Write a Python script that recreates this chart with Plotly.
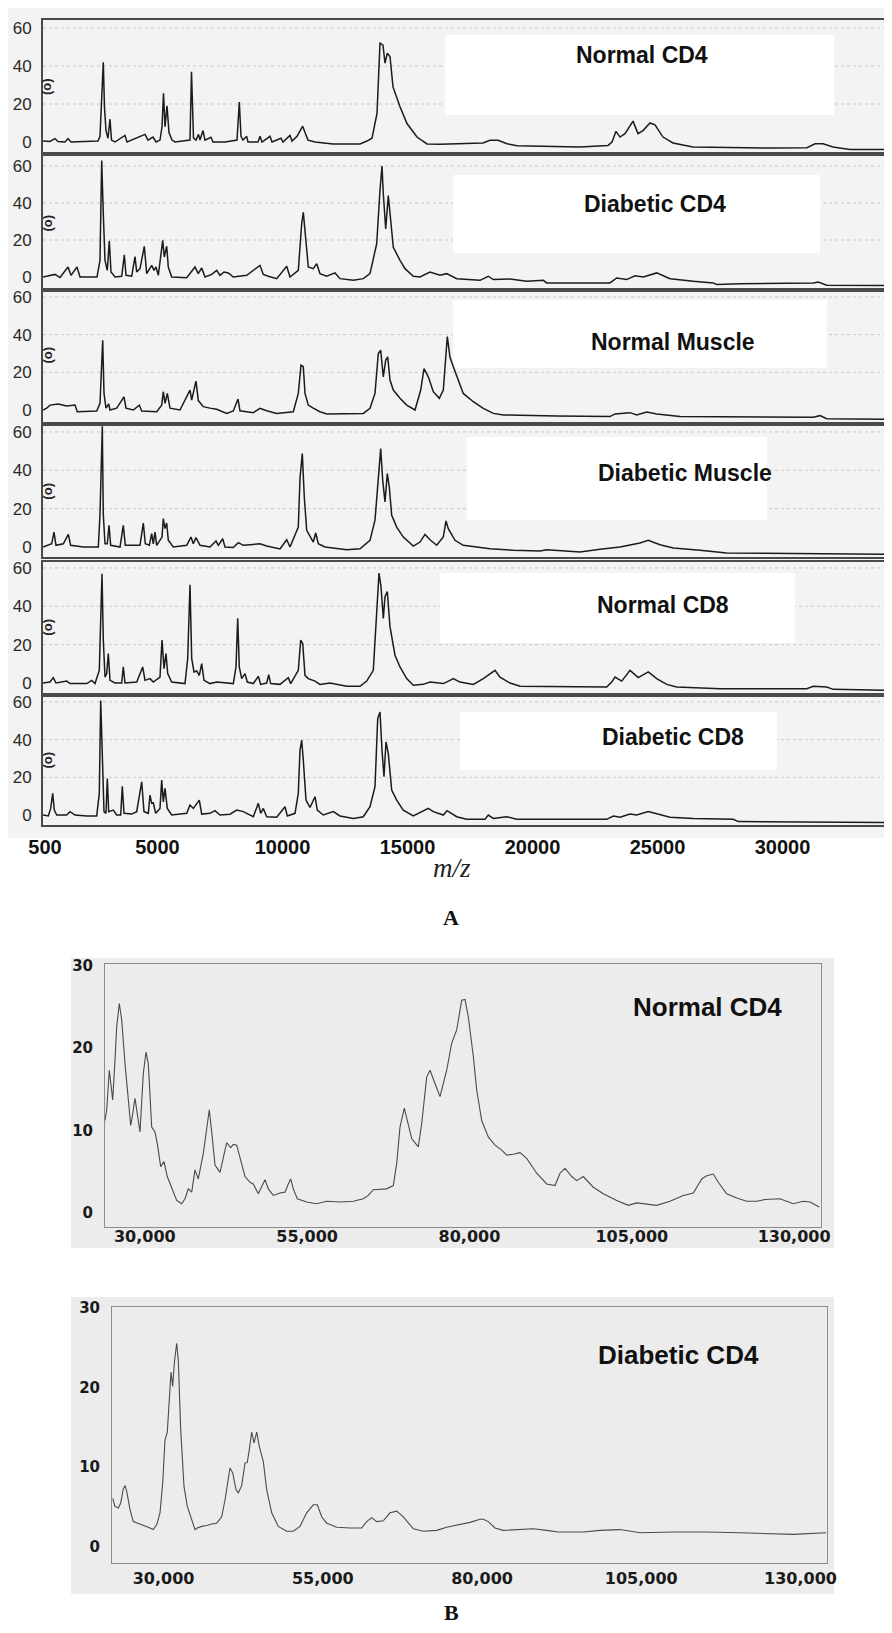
import plotly.graph_objects as go

# page is 892x1633; the browser adds an 8px body margin, so the figure is drawn 8px smaller
PAGE_W, PAGE_H = 892, 1633
OFF = 8
W, H = PAGE_W - OFF, PAGE_H - OFF

# ---------------- tick labels ----------------
a_tick_vals = [500, 5000, 10000, 15000, 20000, 25000, 30000]
a_tick_text = ["500", "5000", "10000", "15000", "20000", "25000", "30000"]
a_y_ticks = [0, 20, 40, 60]
b_tick_vals = [30000, 55000, 80000, 105000, 130000]
b_tick_text = ["30,000", "55,000", "80,000", "105,000", "130,000"]
b_y_ticks = [0, 10, 20, 30]

a_names = ["Normal CD4", "Diabetic CD4", "Normal Muscle", "Diabetic Muscle", "Normal CD8", "Diabetic CD8"]
b_names = ["Normal CD4", "Diabetic CD4"]

# ---------------- panel A spectra (m/z, intensity) ----------------
nc4_mz = [420, 700, 900, 1020, 1300, 1420, 1540, 2100, 2620, 2700,
          2760, 2832, 2880, 2940, 3020, 3100, 3160, 3300, 3700, 3780,
          4500, 4620, 4820, 4940, 5100, 5180, 5240, 5300, 5380, 5460,
          5580, 5700, 6300, 6360, 6440, 6540, 6640, 6700, 6820, 6900,
          7140, 7220, 7700, 8180, 8272, 8340, 8420, 8568, 8620, 9020,
          9100, 9180, 9500, 9580, 9940, 10020, 10300, 10380, 10580, 10808,
          10900, 11020, 11300, 12020, 13100, 13380, 13580, 13780, 13900, 14020,
          14100, 14192, 14300, 14420, 14700, 14980, 15380, 15780, 16300, 17100,
          18020, 18300, 18620, 18980, 19380, 21900, 23020, 23180, 23340, 23500,
          23700, 24020, 24220, 24420, 24700, 24900, 25220, 25620, 26420, 29620,
          30980, 31300, 31620, 32020, 32700, 34220]
nc4_int = [0.5, 0.3, 1.8, 0.3, 0, 1.8, 0, 0.2, 0.5, 3,
           25, 42, 18, 6, 2, 12, 1, 0, 3.5, 0,
           4, 1, 2.6, 0, 1, 8, 25.6, 8, 19, 5,
           1, 0, 1, 37, 2, 1, 4, 1, 6, 1,
           2.5, 0, 0, 1, 21, 3, 1, 3, 0, 0,
           3, 0, 3, 0, 2, 0, 3.5, 0.5, 3, 8.3,
           5, 1, 0, -1, -1, 0.5, 2, 15, 52, 51,
           41.5, 46.7, 45, 29, 18.5, 9.7, 2.6, -1, -1.2, -0.9,
           -0.5, 0.9, 0.9, -0.9, -2, -2.6, -1.8, 0, 5.6, 2.6,
           4.4, 11, 4.4, 6, 10, 9, 2.6, -0.5, -2.6, -3.2,
           -3, -0.9, -0.9, -2.6, -3.9, -3.9]

dc4_mz = [420, 900, 1100, 1420, 1540, 1780, 1900, 2580, 2700, 2768,
          2832, 2900, 2992, 3072, 3140, 3300, 3568, 3672, 3740, 3968,
          4100, 4168, 4300, 4472, 4568, 4768, 4860, 4940, 5032, 5208,
          5272, 5368, 5432, 5568, 6168, 6500, 6632, 6768, 6900, 7168,
          7368, 7500, 7660, 7832, 8032, 8568, 9100, 9232, 9432, 9768,
          10168, 10300, 10632, 10768, 10832, 10900, 11032, 11232, 11368, 11500,
          11768, 12100, 12300, 12832, 13232, 13500, 13768, 13900, 13980, 14032,
          14128, 14232, 14328, 14432, 14700, 14900, 15232, 15500, 15900, 16300,
          16568, 16968, 17900, 18232, 18432, 19100, 19768, 20432, 20568, 23100,
          23368, 23768, 24100, 24432, 24968, 25500, 26432, 27232, 27368, 28300,
          31232, 31432, 31768, 34220]
dc4_int = [0, 1.4, -0.3, 5.4, 0.9, 5.4, 0, 0, 9, 63,
           34, 9, 3.6, 19.5, 2.7, 0, 0.4, 12, 0.9, 0.4,
           11, 2.7, 4.5, 16.6, 1.8, 6.3, 3.6, 5.4, 0.9, 19.8,
           10.8, 16.6, 5.4, 0, -0.4, 5.4, 1.8, 4.9, 0, 1.4,
           3.6, 0.9, 2.7, 2.2, 0, 0.9, 6.3, 1.4, 0.4, -0.9,
           5.8, 0, 3.6, 28.8, 35, 23.4, 5.4, 4.5, 7.2, 1.8,
           0.4, 2.2, -0.9, -1.8, -0.9, 1.8, 18, 47, 60, 45,
           26, 44, 30.6, 16, 9, 4.5, 0.4, 0, 2.7, 1,
           1.8, -0.9, -1.8, 0.4, -1.4, -1.1, -2.3, -1.8, -3.2, -3.2,
           -0.5, -1.4, 0.7, 0, 2.2, -0.9, -2.3, -3.2, -4, -3.6,
           -3.2, -2.7, -4.5, -4.6]

nm_mz = [420, 568, 700, 1032, 1368, 1700, 1792, 2568, 2700, 2752,
         2808, 2860, 2940, 3048, 3100, 3368, 3660, 3740, 4032, 4272,
         4368, 4968, 5168, 5232, 5300, 5392, 5500, 5900, 6100, 6300,
         6368, 6540, 6632, 6832, 7100, 7368, 7768, 8032, 8220, 8300,
         8832, 9100, 9368, 9768, 10432, 10632, 10740, 10832, 10900, 11032,
         11232, 11500, 11768, 12432, 13232, 13500, 13700, 13832, 13928, 14032,
         14128, 14208, 14300, 14432, 14700, 14968, 15300, 15528, 15660, 15832,
         16032, 16272, 16432, 16592, 16700, 16832, 17032, 17232, 17632, 18032,
         18432, 18832, 20968, 23100, 23300, 23900, 24168, 24568, 24968, 25900,
         31232, 31500, 31768, 34220]
nm_int = [0, 1, 2.6, 3.2, 2.1, 2.6, -0.9, -0.5, 3.5, 21,
          37, 8.8, 1, 3.2, 0, 1, 7, 1, 0, 2.6,
          -0.5, -0.9, 2.6, 9.7, 3.5, 8.8, 1, 0, 5.3, 10.6,
          5.3, 15.3, 5, 1.8, 1, 0.4, -1.8, -0.5, 5.8, -0.4,
          -1.4, 0.9, -0.4, -1.8, -0.9, 8.8, 23.8, 23, 8.8, 2.6,
          1, -0.9, -2.1, -1.8, -1.8, 0.9, 8.8, 30, 31.7, 17.6,
          26.5, 28.2, 15.9, 10.6, 6.2, 2.6, 0, 10.6, 22, 17.6,
          9.7, 6.2, 10.6, 39, 28, 23, 15.9, 8.8, 4.4, 0.9,
          -1.8, -2.6, -3.2, -3.5, -2.1, -1.4, -2.6, -1.1, -2.1, -3.5,
          -3.9, -3, -4.6, -4.9]

dm_mz = [420, 568, 768, 860, 940, 1232, 1432, 1528, 2032, 2632,
         2700, 2752, 2792, 2832, 2900, 2992, 3060, 3128, 3500, 3632,
         3712, 4300, 4432, 4512, 4672, 4768, 4832, 4900, 4968, 5180,
         5232, 5300, 5368, 5432, 5632, 6168, 6340, 6432, 6540, 6700,
         7100, 7340, 7432, 7608, 7700, 8032, 8232, 8432, 9100, 9368,
         9900, 10168, 10300, 10632, 10700, 10792, 10872, 10968, 11100, 11232,
         11328, 11432, 11700, 12568, 13100, 13500, 13700, 13832, 13928, 14008,
         14100, 14192, 14272, 14368, 14568, 14832, 15232, 15500, 15700, 15900,
         16168, 16432, 16540, 16632, 16900, 17232, 17632, 18300, 19232, 20300,
         20568, 21900, 22700, 23500, 24300, 24632, 25100, 25632, 26700, 27768,
         34220]
dm_int = [0, 0.9, 1.7, 7.8, 0.9, 1.7, 6.6, 0.9, 0, 0,
          17, 43, 63, 17, 1.7, 1.7, 11.3, 0.9, 0, 11.3,
          0.9, 0.9, 12.5, 1.7, 0.9, 7, 1.7, 7.8, 0.9, 5.2,
          14.8, 9.6, 12.5, 3.5, 0, 0.9, 5.2, 1.7, 4.9, 0.9,
          0, 3.1, 0.9, 4.3, 0, -0.3, 2.3, 0.9, 1.7, 0.5,
          -1, 3.8, 0, 10.4, 35.7, 48.7, 26, 8.7, 6, 2.6,
          7.3, 1.7, 0, -1.4, -0.9, 3.5, 14, 36.5, 51.3, 34.8,
          23.5, 38.3, 31.3, 16.5, 10.4, 5.2, 0.5, 2.6, 6.6, 3.8,
          0.9, 5.2, 13.6, 9.6, 3.5, 0.9, 0.3, -0.9, -1.7, -2.1,
          -1.4, -2.6, -1.2, 0, 2.1, 3.5, 1.2, -0.5, -1.7, -3.1,
          -3.8]

nc8_mz = [420, 700, 832, 940, 1368, 1500, 2168, 2368, 2500, 2672,
          2728, 2780, 2832, 2900, 2968, 3032, 3100, 3300, 3568, 3632,
          3700, 4168, 4408, 4500, 4700, 4832, 5100, 5180, 5260, 5340,
          5408, 5568, 6100, 6208, 6300, 6368, 6460, 6568, 6672, 6768,
          6860, 7100, 7368, 8032, 8140, 8208, 8272, 8368, 8500, 8592,
          8832, 9032, 9128, 9368, 9448, 9528, 9900, 10232, 10328, 10632,
          10728, 10808, 10900, 11032, 11300, 11500, 11900, 12568, 13100, 13368,
          13632, 13768, 13860, 13940, 14032, 14100, 14192, 14300, 14500, 14700,
          14968, 15232, 15632, 15900, 16432, 16700, 16832, 17100, 17632, 18032,
          18300, 18500, 18700, 19100, 19500, 22968, 23168, 23300, 23568, 23900,
          24232, 24632, 24968, 25368, 25768, 27500, 30968, 31232, 31768, 32032,
          34220]
nc8_int = [0, 0.5, 2.8, 0, 1, -0.3, -0.3, 1.4, -0.3, 6.6,
           33, 57, 22.4, 3.1, 4.9, 15.4, 1.4, 0, 0, 8.4,
           0, 0.5, 8.4, 1.4, 2.3, 0.5, 3.1, 22.4, 7.5, 15.4,
           4.9, 0.5, -0.3, 12.8, 51.2, 12.8, 5.8, 6.3, 4, 10.1,
           1.4, -0.3, 0.5, -0.3, 8.4, 33.7, 8.4, 2.3, 4.9, 0.5,
           -0.3, 3.5, -0.7, 0, 4.4, -0.3, -0.7, 2.8, -0.3, 6.6,
           22.4, 20.6, 4, 2.3, 1, -0.7, 0, -1.7, -1.7, 1,
           6.6, 38, 57.3, 50.3, 33.7, 45, 47.7, 29.4, 14.5, 8.4,
           2.3, -1.2, -0.7, 0.5, -0.3, 1.4, 2.3, 0.5, -0.7, 2.3,
           4.9, 6.6, 3.1, 0, -1.7, -2.1, 0.5, 3.1, 1, 6.6,
           2.8, 5.8, 2.3, -0.7, -2.1, -3, -3, -1.7, -2.1, -3.3,
           -3.8]

dc8_mz = [420, 632, 728, 808, 872, 968, 1368, 1500, 1700, 2168,
          2568, 2672, 2728, 2780, 2860, 2940, 2992, 3048, 3232, 3368,
          3528, 3592, 3660, 3968, 4168, 4368, 4460, 4632, 4700, 4768,
          4832, 4928, 5100, 5168, 5232, 5300, 5392, 5568, 6168, 6300,
          6432, 6672, 6768, 7100, 7300, 7500, 7900, 8168, 8432, 8832,
          9032, 9128, 9232, 9368, 9768, 10100, 10192, 10500, 10632, 10700,
          10768, 10832, 10940, 11100, 11300, 11392, 11632, 12032, 12300, 12832,
          13232, 13500, 13700, 13808, 13900, 13980, 14060, 14140, 14232, 14368,
          14568, 14832, 15232, 15832, 16032, 16432, 16580, 16968, 17368, 18100,
          18232, 18432, 18968, 19368, 22968, 23232, 23500, 23900, 24168, 24632,
          24968, 25500, 26432, 28032, 28232, 34220]
dc8_int = [0, -0.5, 3.5, 11.5, 2.6, 0, 0, 1.8, 0, -0.5,
           -0.5, 11.5, 60.8, 32.6, 1.8, 0.9, 19.4, 1.8, 2.6, 0,
           0, 15.3, 0.9, 0.5, 1.8, 17.6, 1.8, 0.9, 10.6, 6.2,
           6.5, 0.9, 3.5, 18.5, 7, 14.1, 3.5, 0, 0.9, 5.3,
           3.5, 7.9, 0.5, 0.9, 2.3, 0, 0.4, 2.6, 1.8, -0.9,
           6.2, 0.9, 3.5, -0.9, -1.2, 4.4, -0.5, 0.9, 11.5, 34.4,
           39.7, 29.1, 7.9, 4, 9.7, 2.6, 0, 1.8, -0.5, -1.8,
           -0.9, 4.4, 15, 51.1, 54.7, 34.4, 20.3, 38.8, 32.6, 13.2,
           7.9, 2.6, -0.5, 3.5, 1.8, 0, 2.3, -0.9, -2.3, -2.3,
           0, -1.8, -0.9, -2.3, -2.3, -0.5, -1.2, 0.5, 0, 1.8,
           0.5, -1.2, -1.8, -2.3, -3.5, -4]

# ---------------- panel B spectra (m/z, intensity) ----------------
bn_mz = [23870, 24132, 24532, 24748, 25056, 25410, 25672, 26072, 26442, 26950,
         27458, 27828, 28136, 28490, 28844, 29260, 29768, 30184, 30538, 31062,
         31570, 31924, 32448, 32956, 33464, 34142, 34912, 35682, 36190, 36698,
         37222, 37730, 38238, 39008, 39532, 39932, 40302, 40810, 41580, 42088,
         42612, 43228, 43628, 44152, 44660, 45430, 46200, 46708, 47478, 48002,
         48510, 49018, 49788, 50820, 51590, 52098, 52468, 52868, 53484, 54932,
         56472, 58012, 60060, 62108, 63648, 64418, 65188, 67252, 68268, 68792,
         69300, 69962, 70578, 71102, 72118, 72642, 73412, 73920, 74690, 75460,
         76492, 77262, 78032, 78802, 79310, 79818, 80588, 81112, 81882, 82898,
         83930, 84962, 85732, 86748, 87780, 88812, 90352, 91892, 93170, 93940,
         94710, 95742, 96512, 97528, 99068, 100608, 102672, 104458, 105752, 108832,
         110880, 112928, 114468, 115762, 116532, 117548, 118318, 119612, 121152, 122692,
         124232, 125510, 127820, 129868, 131408, 132440, 133872]
bn_int = [11.2, 12.5, 17.3, 15.9, 13.7, 18.5, 22.6, 25.4, 23.4, 18.1,
          13.3, 10.6, 12, 13.9, 12, 9.8, 16.9, 19.5, 18.1, 10.4,
          9.8, 8.4, 5.6, 6.2, 4.4, 3.1, 1.5, 1.1, 1.7, 2.9,
          2.5, 5.2, 4.1, 7.2, 10.4, 12.5, 9.8, 5.8, 4.9, 6.8,
          8.5, 7.9, 8.3, 8.2, 6.8, 4.4, 3.7, 3.5, 2.3, 3.1,
          4, 2.9, 2.1, 2.4, 2.5, 3.5, 4.1, 2.9, 1.7, 1.3,
          1.1, 1.4, 1.3, 1.4, 1.7, 2.1, 2.8, 2.9, 3.3, 6,
          10.4, 12.7, 10.8, 9, 8, 10.8, 16.5, 17.3, 15.7, 14.1,
          17.3, 20.6, 22.2, 25.8, 25.9, 23.8, 19, 14.9, 11.2, 9.2,
          8.2, 7.6, 7, 7.1, 7.3, 6.6, 4.8, 3.5, 3.3, 4.8,
          5.4, 4.4, 3.9, 4.4, 3.1, 2.3, 1.5, 0.9, 1.2, 0.9,
          1.4, 2.1, 2.4, 4.1, 4.5, 4.7, 3.7, 2.3, 1.8, 1.4,
          1.4, 1.6, 1.7, 1.1, 1.4, 1.3, 0.7]

bd_mz = [22011, 22373, 22891, 23267, 23676, 23943, 24209, 24728, 25246, 25779,
         26564, 27601, 28386, 28919, 29438, 29861, 30223, 30584, 30898, 31165,
         31431, 31683, 32059, 32311, 32687, 33206, 33724, 34414, 34933, 35294,
         35984, 36769, 37554, 38339, 39124, 39643, 40066, 40428, 40851, 41370,
         41731, 42264, 42783, 43144, 43458, 43834, 44196, 44619, 45028, 45656,
         46189, 46974, 48011, 49329, 50366, 51418, 52469, 53506, 54134, 54824,
         55609, 57179, 59268, 61104, 61889, 62674, 63459, 64496, 65548, 66599,
         67636, 69206, 70776, 72879, 74449, 76538, 78108, 79678, 80196, 80981,
         82033, 83336, 85439, 88046, 90149, 91971, 95896, 98518, 101658, 104798,
         110026, 115269, 120498, 125726, 128866, 134000]
bd_int = [6.1, 5.1, 4.9, 5.5, 7.3, 7.7, 7, 4.7, 3.2, 3,
          2.8, 2.5, 2.2, 2.8, 4.3, 8, 13.4, 14.4, 18.8, 21.9,
          20.1, 23, 25.5, 23.4, 14.7, 7.6, 5.1, 3.4, 2.2, 2.4,
          2.6, 2.7, 2.9, 3, 3.8, 5.9, 8.4, 9.9, 9.3, 7.2,
          6.8, 7.7, 10.5, 10.6, 12.2, 14.4, 13, 14.4, 12.6, 10.7,
          7.2, 4.3, 2.6, 2, 2, 2.6, 4.3, 5.3, 5.3, 3.8,
          3, 2.5, 2.4, 2.4, 3.2, 3.7, 3.2, 3.3, 4.3, 4.5,
          3.8, 2.3, 2, 2.1, 2.5, 2.8, 3.1, 3.5, 3.5, 3.2,
          2.4, 2.1, 2.2, 2.3, 2.1, 1.9, 1.9, 2.1, 2.2, 1.8,
          1.9, 1.9, 1.8, 1.7, 1.6, 1.8]


# ---------------- layout helpers (page pixels -> paper fractions) ----------------
def fx(p):
    return (p - OFF) / W


def fy(p):
    return 1 - (p - OFF) / H


fig = go.Figure()
shapes = []
annotations = []

# background tones of the scanned figure
shapes.append(dict(type="rect", xref="paper", yref="paper", layer="below",
                   x0=0, x1=1, y0=fy(838), y1=1, fillcolor="#f3f3f3", line_width=0))
shapes.append(dict(type="rect", xref="paper", yref="paper", layer="below",
                   x0=fx(71), x1=fx(834), y0=fy(1248), y1=fy(958), fillcolor="#ececec", line_width=0))
shapes.append(dict(type="rect", xref="paper", yref="paper", layer="below",
                   x0=fx(71), x1=fx(834), y0=fy(1594), y1=fy(1297), fillcolor="#ececec", line_width=0))

# ---------------- panel A ----------------
A_LEFT, A_RIGHT = 43, 888
a_frames = [(20, 152), (156, 288), (292, 422), (426, 557), (562, 693), (697, 825)]
a_yranges = [(-5.26, 64.2), (-5.95, 65.4), (-6.37, 62.65), (-5.2, 63.1), (-5.2, 63.1), (-5.3, 62.65)]
a_xrange = [420, 34220]
a_series = [(nc4_mz, nc4_int), (dc4_mz, dc4_int), (nm_mz, nm_int),
            (dm_mz, dm_int), (nc8_mz, nc8_int), (dc8_mz, dc8_int)]
a_boxes = [(445, 834, 35, 115), (453, 820, 175, 253), (453, 827, 300, 368),
           (467, 767, 437, 520), (440, 795, 573, 643), (460, 777, 712, 770)]
a_label_pos = [(642, 55), (655, 204), (673, 342), (685, 473), (663, 605), (673, 737)]

for i in range(6):
    n = i + 1
    sfx = "" if n == 1 else str(n)
    xs, ys = a_series[i]
    top, bot = a_frames[i]
    fig.add_trace(go.Scatter(x=xs, y=ys, mode="lines",
                             line=dict(color="#1b1b1b", width=1.5),
                             xaxis="x" + sfx, yaxis="y" + sfx,
                             showlegend=False, hoverinfo="skip"))
    last = n == 6
    fig.update_layout({
        "xaxis" + sfx: dict(domain=[fx(A_LEFT), fx(A_RIGHT)], anchor="y" + sfx, automargin=False,
                            range=a_xrange, tickvals=a_tick_vals, ticktext=a_tick_text,
                            showticklabels=last, ticks="", ticklabelstandoff=3,
                            tickfont=dict(family="Liberation Sans", size=20, color="#111", weight="bold"),
                            showgrid=False, zeroline=False, showline=True, mirror=True,
                            linecolor="#4a4a4a", linewidth=2),
        "yaxis" + sfx: dict(domain=[fy(bot), fy(top)], anchor="x" + sfx, automargin=False,
                            range=list(a_yranges[i]), tickvals=a_y_ticks,
                            ticks="outside", ticklen=6, tickcolor="rgba(0,0,0,0)",
                            tickfont=dict(family="Liberation Sans", size=17, color="#2a2a2a"),
                            showgrid=False, zeroline=False, showline=True, mirror=True,
                            linecolor="#4a4a4a", linewidth=2),
    })
    # faint dotted grid lines of the scan
    for gv in a_y_ticks[1:]:
        shapes.append(dict(type="line", xref="x" + sfx + " domain", yref="y" + sfx, layer="below",
                           x0=0, x1=1, y0=gv, y1=gv,
                           line=dict(color="#c8c8c8", width=1, dash="dot")))
    bx0, bx1, by0, by1 = a_boxes[i]
    shapes.append(dict(type="rect", xref="x" + sfx + " domain", yref="y" + sfx + " domain",
                       layer="below",
                       x0=(bx0 - A_LEFT) / (A_RIGHT - A_LEFT), x1=(bx1 - A_LEFT) / (A_RIGHT - A_LEFT),
                       y0=(bot - by1) / (bot - top), y1=(bot - by0) / (bot - top),
                       fillcolor="white", line_width=0))
    lx, ly = a_label_pos[i]
    annotations.append(dict(text=a_names[i], xref="paper", yref="paper", x=fx(lx), y=fy(ly),
                            xanchor="center", yanchor="middle", showarrow=False,
                            font=dict(family="Liberation Sans", size=23, color="#111", weight="bold")))
    annotations.append(dict(text="(o)", xref="x" + sfx + " domain", yref="y" + sfx,
                            x=0.005, y=29, xanchor="center", yanchor="middle", showarrow=False,
                            textangle=-90,
                            font=dict(family="Liberation Sans", size=13, color="#222", weight="bold")))

annotations.append(dict(text="<i>m/z</i>", xref="paper", yref="paper", x=fx(452), y=fy(868),
                        xanchor="center", yanchor="middle", showarrow=False,
                        font=dict(family="Liberation Serif", size=27, color="#222")))
annotations.append(dict(text="A", xref="paper", yref="paper", x=fx(451), y=fy(917),
                        xanchor="center", yanchor="middle", showarrow=False,
                        font=dict(family="Liberation Serif", size=22, color="#111", weight="bold")))
annotations.append(dict(text="B", xref="paper", yref="paper", x=fx(451), y=fy(1612),
                        xanchor="center", yanchor="middle", showarrow=False,
                        font=dict(family="Liberation Serif", size=22, color="#111", weight="bold")))

# ---------------- panel B ----------------
b_frames = [(105, 821, 964, 1227), (112, 827, 1307, 1563)]
b_xranges = [[23870, 134134], [21902, 134157]]
b_yranges = [[-1.73, 30.2], [-1.98, 30.04]]
b_series = [(bn_mz, bn_int), (bd_mz, bd_int)]
b_label_pos = [(707, 1007), (678, 1355)]
b_standoff = [-5, 1]

for j in range(2):
    n = 7 + j
    sfx = str(n)
    xs, ys = b_series[j]
    l, r, top, bot = b_frames[j]
    fig.add_trace(go.Scatter(x=xs, y=ys, mode="lines",
                             line=dict(color="#4a4a4a", width=1.1),
                             xaxis="x" + sfx, yaxis="y" + sfx,
                             showlegend=False, hoverinfo="skip"))
    fig.update_layout({
        "xaxis" + sfx: dict(domain=[fx(l), fx(r)], anchor="y" + sfx, automargin=False,
                            range=b_xranges[j],
                            tickvals=b_tick_vals, ticktext=b_tick_text,
                            ticks="", ticklabelstandoff=b_standoff[j],
                            tickfont=dict(family="DejaVu Sans", size=16, color="#1a1a1a", weight="bold"),
                            showgrid=False, zeroline=False, showline=True, mirror=True,
                            linecolor="#8c8c8c", linewidth=1),
        "yaxis" + sfx: dict(domain=[fy(bot), fy(top)], anchor="x" + sfx, automargin=False,
                            range=b_yranges[j],
                            tickvals=b_y_ticks, ticks="outside", ticklen=8,
                            tickcolor="rgba(0,0,0,0)",
                            tickfont=dict(family="DejaVu Sans", size=15, color="#1a1a1a", weight="bold"),
                            showgrid=False, zeroline=False, showline=True, mirror=True,
                            linecolor="#8c8c8c", linewidth=1),
    })
    lx, ly = b_label_pos[j]
    annotations.append(dict(text=b_names[j], xref="paper", yref="paper", x=fx(lx), y=fy(ly),
                            xanchor="center", yanchor="middle", showarrow=False,
                            font=dict(family="Liberation Sans", size=26, color="#111", weight="bold")))

fig.update_layout(width=W, height=H, autosize=False,
                  margin=dict(l=0, r=0, t=0, b=0, pad=0),
                  paper_bgcolor="white", plot_bgcolor="rgba(0,0,0,0)",
                  shapes=shapes, annotations=annotations, showlegend=False)

fig.write_html("out.html")
